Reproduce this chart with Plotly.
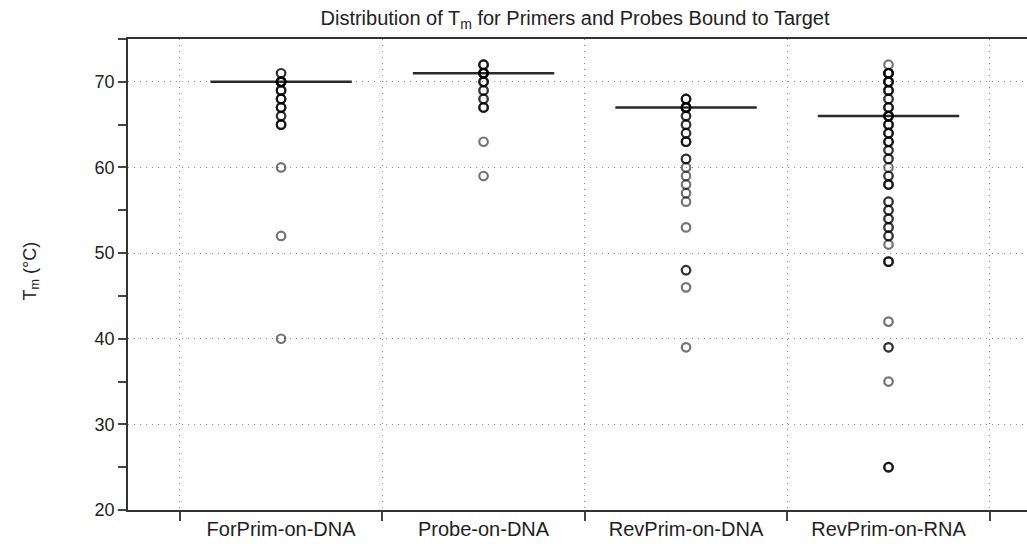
import plotly.graph_objects as go

# ---- data ----
categories = ["ForPrim-on-DNA", "Probe-on-DNA", "RevPrim-on-DNA", "RevPrim-on-RNA"]

# individual Tm values (°C); repeated values reproduce the darker, overlapping circles
forprim_dna = [71, 71, 70, 70, 70, 70, 70, 70, 70, 70, 69, 69, 69, 68, 68, 68,
               67, 67, 67, 66, 66, 65, 65, 65, 60, 52, 40]
probe_dna = [72, 72, 72, 71, 71, 71, 71, 71, 71, 70, 70, 70, 69, 69, 68, 68,
             67, 67, 67, 63, 59]
revprim_dna = [68, 68, 68, 67, 67, 67, 67, 67, 67, 66, 66, 65, 65, 64, 64,
               63, 63, 63, 61, 61, 60, 59, 58, 57, 56, 53, 48, 48, 46, 39]
revprim_rna = [72, 71, 71, 71, 71, 71, 70, 70, 70, 70, 69, 69, 69, 68, 68,
               67, 67, 67, 66, 66, 66, 66, 65, 65, 65, 64, 64, 64, 63, 63, 63,
               62, 62, 61, 61, 60, 59, 59, 58, 58, 58, 56, 56, 55, 55, 54, 54,
               53, 53, 52, 52, 51, 49, 49, 49, 42, 39, 39, 35, 25, 25, 25]
series = [forprim_dna, probe_dna, revprim_dna, revprim_rna]

# horizontal summary bars
median_tm = [70, 71, 67, 66]

y_ticks = [20, 30, 40, 50, 60, 70]

FONT = "Liberation Sans, Arial, Helvetica, sans-serif"

fig = go.Figure()

# summary bars (drawn as wide horizontal-line markers)
fig.add_trace(go.Scatter(
    x=categories, y=median_tm, mode="markers",
    marker=dict(symbol="line-ew", size=101, color="#2a2a2a",
                line=dict(width=2.6, color="#2a2a2a")),
    hoverinfo="skip", showlegend=False,
))

for cat, vals in zip(categories, series):
    fig.add_trace(go.Scatter(
        x=[cat] * len(vals), y=vals, mode="markers",
        marker=dict(symbol="circle-open", size=8.5,
                    color="rgba(0,0,0,0.55)",
                    line=dict(width=2.2, color="rgba(0,0,0,0.55)")),
        showlegend=False,
    ))

fig.update_layout(
    width=1027, height=544,
    margin=dict(l=128, r=0, t=39, b=34),
    paper_bgcolor="white", plot_bgcolor="white",
    font=dict(family=FONT, size=18, color="#222"),
    title=dict(text="Distribution of T<sub>m</sub> for Primers and Probes Bound to Target",
               x=(575 - 128) / 899, xref="paper", xanchor="center",
               y=1 - 18 / 544, yref="container", yanchor="middle",
               font=dict(family=FONT, size=20, color="#222")),
    showlegend=False,
)

fig.update_xaxes(
    type="category", categoryorder="array", categoryarray=categories,
    range=[-0.756, 3.684],
    tickson="boundaries", ticks="outside", ticklen=9, tickwidth=1.5, tickcolor="#444",
    showline=True, linecolor="#333", linewidth=1.5, mirror=True,
    showgrid=True, gridcolor="#888", gridwidth=1.3, griddash="1.3px,4.7px",
    tickfont=dict(family=FONT, size=20, color="#222"),
    zeroline=False,
)

fig.update_yaxes(
    range=[20, 75], tickmode="array", tickvals=y_ticks,
    ticks="outside", ticklen=8, tickwidth=1.5, tickcolor="#444",
    minor=dict(dtick=5, tick0=20, ticks="outside", ticklen=8, tickwidth=1.5,
               tickcolor="#444", showgrid=False),
    showline=True, linecolor="#333", linewidth=1.5,
    showgrid=True, gridcolor="#888", gridwidth=1.3, griddash="1.3px,4.7px",
    tickfont=dict(family=FONT, size=18, color="#222"),
    zeroline=False,
)

fig.add_annotation(
    text="T<sub>m</sub> (°C)", xref="paper", yref="paper",
    x=0, y=0.5, xanchor="center", yanchor="middle",
    xshift=-97, yshift=3, textangle=-90, showarrow=False,
    font=dict(family=FONT, size=18, color="#222"),
)

fig.write_html("out.html", config={"displayModeBar": False},
               post_script="document.body.style.margin='0';")
